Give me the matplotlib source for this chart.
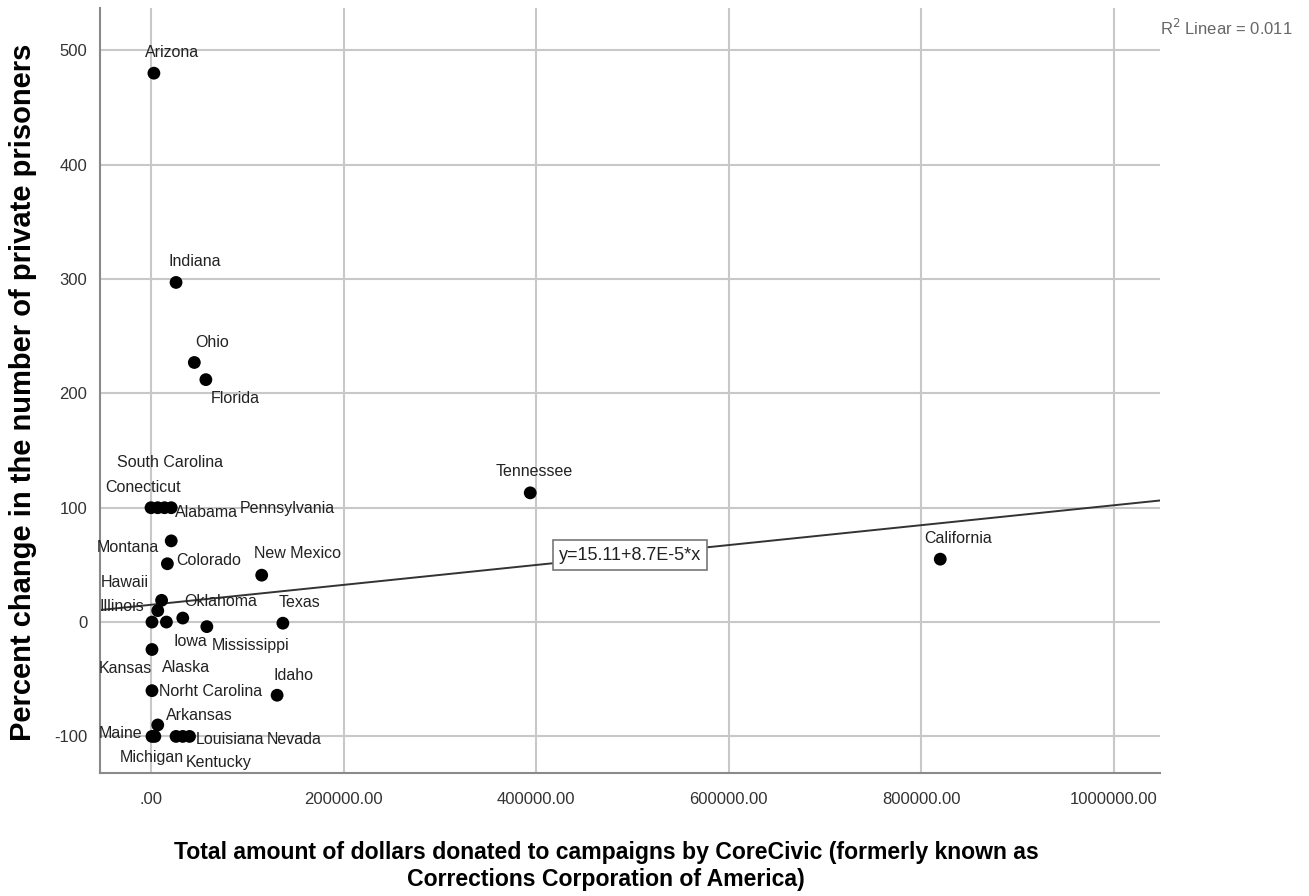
import matplotlib
matplotlib.use("Agg")
import matplotlib.pyplot as plt
import numpy as np

# Campaign donations (USD) and percent change in private prisoners, by state
states = ["Arizona", "Indiana", "Ohio", "Florida", "Conecticut", "South Carolina",
          "Alabama", "Pennsylvania", "Montana", "Colorado", "New Mexico", "Tennessee",
          "California", "Hawaii", "Illinois", "Alaska", "Iowa", "Oklahoma",
          "Mississippi", "Texas", "Kansas", "Norht Carolina", "Idaho", "Arkansas",
          "Maine", "Michigan", "Louisiana", "Kentucky", "Nevada"]
donations = [3000, 26000, 45000, 57000, 0, 7000,
             14000, 21000, 21000, 17000, 115000, 394000,
             820000, 11000, 7000, 1000, 16000, 33000,
             58000, 137000, 1000, 1000, 131000, 7000,
             1000, 4000, 26000, 33000, 40000]
pct_change = [480, 297, 227, 212, 100, 100,
              100, 100, 71, 51, 41, 113,
              55, 19, 10, 0, 0, 3.5,
              -4, -1, -24, -60, -64, -90,
              -100, -100, -100, -100, -100]

# Fitted linear regression
intercept = 15.11
slope = 8.7e-5
r_squared = 0.011

x_ticks = [0, 200000, 400000, 600000, 800000, 1000000]
x_tick_labels = [".00", "200000.00", "400000.00", "600000.00", "800000.00", "1000000.00"]
y_ticks = [-100, 0, 100, 200, 300, 400, 500]
y_tick_labels = ["-100", "0", "100", "200", "300", "400", "500"]

# Label offsets in pixels (dx, dy with dy measured downward)
label_offsets = {
    "Arizona": (18, -21), "Indiana": (19, -21), "Ohio": (18, -20), "Florida": (29, 19),
    "Conecticut": (-8, -20), "South Carolina": (12, -45), "Alabama": (42, 5),
    "Pennsylvania": (116, 1), "Montana": (-43, 7), "Colorado": (41, -3),
    "New Mexico": (36, -22), "Tennessee": (4, -21), "California": (18, -21),
    "Hawaii": (-37, -18), "Illinois": (-36, -4), "Alaska": (34, 45), "Iowa": (24, 19),
    "Oklahoma": (38, -17), "Mississippi": (44, 19), "Texas": (17, -21),
    "Kansas": (-27, 19), "Norht Carolina": (59, 1), "Idaho": (16, -20),
    "Arkansas": (42, -9), "Maine": (-31, -3), "Michigan": (-3, 21),
    "Louisiana": (54, 3), "Kentucky": (36, 26), "Nevada": (105, 3),
}

plt.rcParams["font.family"] = ["Liberation Sans", "DejaVu Sans"]

W, H = 1309, 896
fig = plt.figure(figsize=(W / 100, H / 100), dpi=100)
ax = fig.add_axes([100 / W, 1 - 773 / H, (1160 - 100) / W, (773 - 8) / H])

ax.set_xlim(-53000, 1048300)
ax.set_ylim(-132, 537)

ax.set_xticks(x_ticks)
ax.set_xticklabels(x_tick_labels)
ax.set_yticks(y_ticks)
ax.set_yticklabels(y_tick_labels)
ax.tick_params(length=0, labelsize=12, labelcolor="#333333")
ax.tick_params(axis="x", pad=14)
ax.tick_params(axis="y", pad=9)
ax.grid(True, color="#c8c8c8", linewidth=1.5)
ax.set_axisbelow(True)
for side in ["top", "right"]:
    ax.spines[side].set_visible(False)
for side in ["left", "bottom"]:
    ax.spines[side].set_color("#8a8a8a")
    ax.spines[side].set_linewidth(1.5)

# Regression line across the full x range
xs = np.array(ax.get_xlim())
ax.plot(xs, intercept + slope * xs, color="#333333", linewidth=1.4, zorder=2)

ax.scatter(donations, pct_change, s=85, color="black", zorder=3, edgecolors="none")

for name, x, y in zip(states, donations, pct_change):
    dx, dy = label_offsets[name]
    ax.annotate(name, (x, y), xytext=(dx, -dy), textcoords="offset pixels",
                ha="center", va="center", fontsize=11.5, color="#222222", zorder=4)

# Equation box on the fitted line
eq_x = 497700
ax.text(eq_x, intercept + slope * eq_x, f"y={intercept}+{slope:.1E}*x".replace("E-05", "E-5"),
        ha="center", va="center", fontsize=13, color="#222222", zorder=5,
        bbox=dict(boxstyle="square,pad=0.35", facecolor="white", edgecolor="#777777", linewidth=1.2))

fig.text(1160 / W, 1 - 28 / H, f"R$^2$ Linear = {r_squared}", ha="left", va="center",
         fontsize=12, color="#666666")

fig.text(23 / W, 1 - 392 / H, "Percent change in the number of private prisoners",
         rotation=90, ha="center", va="center", fontsize=21, fontweight="bold")
fig.text(606 / W, 1 - 866 / H,
         "Total amount of dollars donated to campaigns by CoreCivic (formerly known as\n"
         "Corrections Corporation of America)",
         ha="center", va="center", multialignment="center", fontsize=16.6,
         fontweight="bold", linespacing=1.25)

fig.savefig("out.png", dpi=100)
